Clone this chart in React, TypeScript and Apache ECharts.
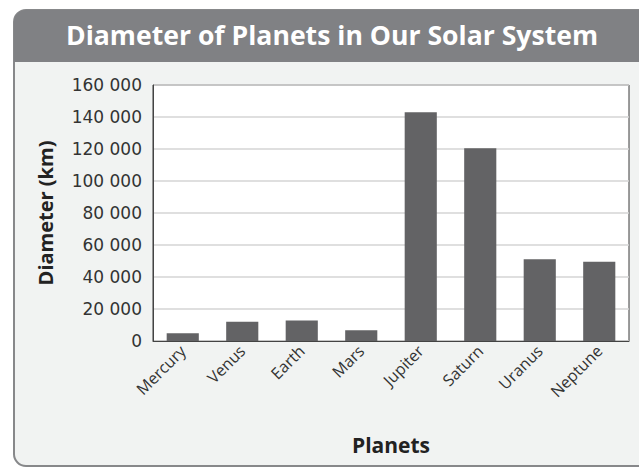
import React, { useEffect, useRef } from "react";
import * as echarts from "echarts";

const planets = ["Mercury", "Venus", "Earth", "Mars", "Jupiter", "Saturn", "Uranus", "Neptune"];
const diameters = [4879, 12104, 12756, 6792, 142984, 120536, 51118, 49528];
const yTicks = [0, 20000, 40000, 60000, 80000, 100000, 120000, 140000, 160000];

const FONT = "'Open Sans', 'DejaVu Sans', sans-serif";

export default function App() {
  const ref = useRef<HTMLDivElement>(null);
  useEffect(() => {
    const chart = echarts.init(ref.current!, null, { renderer: "svg" });
    chart.setOption({
      animation: false,
      backgroundColor: "#ffffff",
      graphic: [
        {
          type: "rect",
          z: -10,
          silent: true,
          shape: { x: 14, y: 10, width: 640, height: 456, r: [12, 0, 0, 12] },
          style: { fill: "#f1f3f2", stroke: "#87888a", lineWidth: 2 },
        },
        {
          type: "rect",
          z: -9,
          silent: true,
          shape: { x: 14, y: 10, width: 640, height: 52, r: [12, 0, 0, 0] },
          style: { fill: "#808184" },
        },
        {
          type: "text",
          z: 10,
          x: 332,
          y: 35,
          style: {
            text: "Diameter of Planets in Our Solar System",
            fill: "#ffffff",
            font: "bold 26.6px 'Open Sans', sans-serif",
            align: "center",
            verticalAlign: "middle",
          },
        },
      ],
      grid: {
        left: 153,
        top: 85,
        right: 10,
        bottom: 129,
        show: true,
        backgroundColor: "#ffffff",
        borderColor: "#3a3a3a",
        borderWidth: 1,
      },
      xAxis: {
        type: "category",
        data: planets,
        name: "Planets",
        nameLocation: "middle",
        nameGap: 93,
        nameTextStyle: { fontFamily: FONT, fontWeight: "bold", fontSize: 21, color: "#222" },
        axisLine: { show: true, lineStyle: { color: "#444", width: 1 } },
        axisTick: { show: false },
        axisLabel: { rotate: 45, fontFamily: FONT, fontSize: 16, color: "#333", margin: 7 },
      },
      yAxis: {
        type: "value",
        min: 0,
        max: 160000,
        interval: 20000,
        name: "Diameter (km)",
        nameLocation: "middle",
        nameGap: 98,
        nameTextStyle: { fontFamily: FONT, fontWeight: "bold", fontSize: 20, color: "#222" },
        axisLine: { show: true, lineStyle: { color: "#444" } },
        axisTick: { show: false },
        splitLine: { show: true, lineStyle: { color: "#d4d4d4", width: 1.5 } },
        axisLabel: {
          fontFamily: "'DejaVu Sans', sans-serif",
          fontSize: 17,
          color: "#333",
          margin: 11,
          customValues: yTicks,
          formatter: (v: number) => String(v).replace(/\B(?=(\d{3})+(?!\d))/g, " "),
        },
      },
      series: [
        {
          type: "bar",
          data: diameters,
          barWidth: "54%",
          itemStyle: { color: "#636365" },
        },
      ],
    });
    return () => chart.dispose();
  }, []);
  return (
    <div
      ref={ref}
      style={{ position: "absolute", left: 0, top: 0, width: 639, height: 470 }}
    />
  );
}
